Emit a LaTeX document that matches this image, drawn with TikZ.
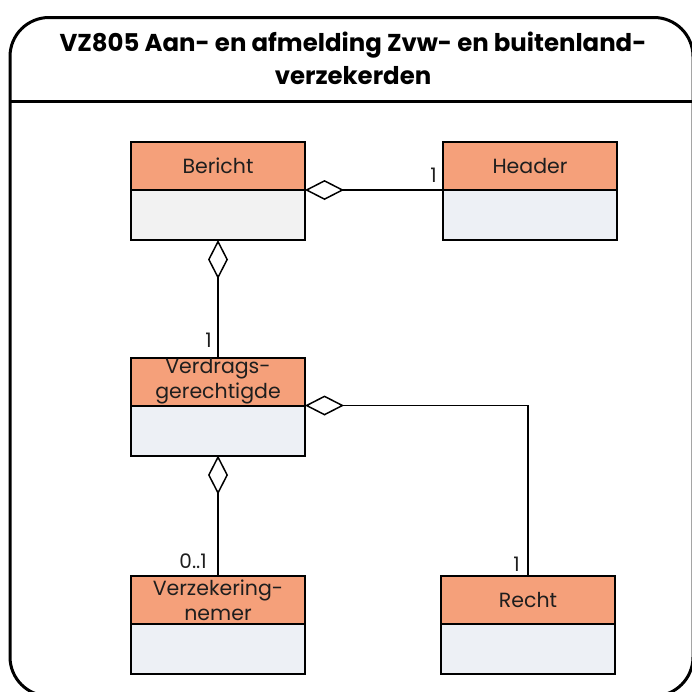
\documentclass[tikz,border=0pt]{standalone}
\usepackage{fontspec}
\setmainfont{Poppins}
\usetikzlibrary{positioning,arrows.meta}
\definecolor{kopkleur}{RGB}{245,160,122}
\definecolor{rompblauw}{RGB}{237,240,245}
\definecolor{rompgrijs}{RGB}{242,242,242}
\definecolor{tekst}{RGB}{30,30,30}
\newcommand{\klasse}[4]{%
  \node [kop] (#1) at (#2) {#3};
  \node [romp, fill=#4, below=0pt of #1] (#1b) {}}
\tikzset{
  kop/.style={draw, line width=2pt, fill=kopkleur, minimum width=174pt,
    minimum height=48pt, inner sep=0pt, outer sep=0pt, align=center,
    font=\fontsize{20.5}{25}\selectfont, text=tekst},
  romp/.style={draw, line width=2pt, minimum width=174pt, minimum height=50pt,
    inner sep=0pt, outer sep=0pt},
  aggr/.style={{Diamond[open,length=39pt,width=20pt]}-, line width=1.5pt},
  mult/.style={font=\fontsize{20}{20}\selectfont, text=tekst, inner sep=0pt},
  titel/.style={align=center, font=\bfseries\fontsize{24.4}{33}\selectfont, inner sep=0pt}
}

\begin{document}
\begin{tikzpicture}[x=1pt, y=-1pt]
\useasboundingbox (0,0) rectangle (692,691);

% kader
\draw[line width=3pt, rounded corners=39pt] (10,17.5) rectangle (693,696);
\draw[line width=3pt] (10,101) -- (693,101);
\node[titel] (TTL) at (353,58) {VZ805 Aan- en afmelding Zvw- en buitenland-\\verzekerden};

\klasse{BER}{218,166}{Bericht}{rompgrijs};
\klasse{HDR}{530,166}{Header}{rompblauw};
\klasse{VER}{218,381.5}{Verdrags-\\gerechtigde}{rompblauw};
\klasse{VZN}{218,600}{Verzekering-\\nemer}{rompblauw};
\klasse{RCH}{528,600}{Recht}{rompblauw};

\draw[aggr] (BER.south east) -- (HDR.south west);
\draw[aggr] (BERb.south) -- (VER.north);
\draw[aggr] (VER.south east) -| (RCH.north);
\draw[aggr] (VERb.south) -- (VZN.north);

\node[mult, anchor=east] (M1) at (437,175.5) {1};
\node[mult, anchor=east] (M2) at (212,340.5) {1};
\node[mult, anchor=east] (M3) at (207,561) {0..1};
\node[mult, anchor=east] (M4) at (520,564) {1};

\end{tikzpicture}
\end{document}
